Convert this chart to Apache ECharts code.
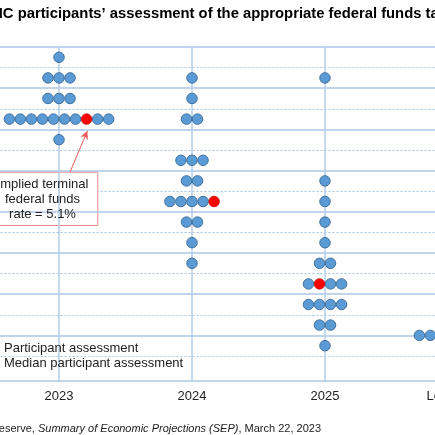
<!DOCTYPE html>
<html>
<head>
<meta charset="utf-8">
<script src="https://cdn.jsdelivr.net/npm/echarts@6/dist/echarts.min.js"></script>
<style>
    html, body { margin: 0; padding: 0; background: #fff; }
    #frame { position: relative; width: 435px; height: 435px; overflow: hidden; }
    #chart { position: absolute; left: -100px; top: 0; width: 660px; height: 435px; }
</style>
</head>
<body>
<div id="frame"><div id="chart"></div></div>
<script>
/* FOMC dot plot, March 2023 SEP */
var columns = ['2023', '2024', '2025', 'Longer run'];

// rate level of each row of dots, and how many dots sit on it (median included)
var rates2023 = [5.875, 5.625, 5.375, 5.125, 4.875];
var counts2023 = [1, 3, 3, 10, 1];
var rates2024 = [5.625, 5.375, 5.125, 4.625, 4.375, 4.125, 3.875, 3.625, 3.375];
var counts2024 = [1, 1, 2, 3, 2, 5, 2, 1, 1];
var rates2025 = [5.625, 4.375, 4.125, 3.875, 3.625, 3.375, 3.125, 2.875, 2.625, 2.375];
var counts2025 = [1, 1, 1, 1, 1, 2, 4, 4, 2, 1];
var ratesLonger = [3.75, 3.5, 3.0, 2.75, 2.5, 2.25];
var countsLonger = [1, 1, 3, 3, 8, 2];

// median per column and which slot in its row it takes
var medianRates = [5.125, 4.125, 3.125, 2.5];
var medianSlots = [7, 4, 1, 5];

// horizontal guide levels
var solidLevels = [2.5, 3, 3.5, 4, 4.5, 5, 5.5, 6];
var dottedLevels = [2.25, 2.75, 3.25, 3.75, 4.25, 4.75, 5.25, 5.75];

var FONT = 'Liberation Sans, Arial, sans-serif';
var dotStep = 0.083;   // horizontal spacing of dots, in column units

var rowSets = [
    [rates2023, counts2023],
    [rates2024, counts2024],
    [rates2025, counts2025],
    [ratesLonger, countsLonger]
];

// spread the dots of every row around the column centre
var buildDots = function () {
    var blue = [], red = [];
    rowSets.forEach(function (set, col) {
        var rates = set[0], counts = set[1];
        rates.forEach(function (rate, r) {
            var n = counts[r];
            for (var i = 0; i < n; i++) {
                var x = col + (i - (n - 1) / 2) * dotStep;
                if (rate === medianRates[col] && i === medianSlots[col]) {
                    red.push([x, rate]);
                } else {
                    blue.push([x, rate]);
                }
            }
        });
    });
    return {blue: blue, red: red};
};

var dots = buildDots();

// dotted lines sit under the note box, solid ones above it
var dottedLines = dottedLevels.map(function (v) {
    return {yAxis: v, lineStyle: {color: '#9fc2e8', width: 1, type: [2, 2]}};
});
var solidLines = solidLevels.map(function (v) {
    return {yAxis: v, lineStyle: {color: '#abc7e7', width: 1.5, type: 'solid'}};
});
columns.forEach(function (c, i) {
    solidLines.push({xAxis: i, lineStyle: {color: '#b3cdea', width: 1.5, type: 'solid'}});
});

var guideSeries = function (name, lines, z) {
    return {
        name: name,
        type: 'scatter',
        data: [],
        z: z,
        markLine: {
            silent: true,
            symbol: 'none',
            label: {show: false},
            z: z,
            data: lines
        }
    };
};

var myChart = echarts.init(document.getElementById('chart'));
myChart.setOption({
    animation: false,
    title: [{
        text: 'FOMC participants\u2019 assessment of the appropriate federal funds target rate',
        left: 65,
        top: 1,
        textStyle: {fontSize: 14.8, fontWeight: 'bold', color: '#000', fontFamily: FONT}
    }, {
        text: '{n|Source: Federal Reserve, }{i|Summary of Economic Projections (SEP)}{n|, March 22, 2023}',
        right: 234,
        top: 418,
        textStyle: {
            fontWeight: 'normal',
            rich: {
                n: {fontSize: 11, color: '#222', fontFamily: FONT, fontWeight: 'normal'},
                i: {fontSize: 11, color: '#222', fontFamily: FONT, fontWeight: 'normal', fontStyle: 'italic'}
            }
        }
    }],
    legend: {
        orient: 'vertical',
        left: 88,
        top: 340.5,
        padding: 0,
        itemGap: 0,
        itemWidth: 10,
        itemHeight: 10,
        icon: 'circle',
        textStyle: {fontSize: 13, color: '#222', fontFamily: FONT, lineHeight: 15},
        data: ['Participant assessment', 'Median participant assessment']
    },
    grid: {left: 92.5, right: 35.5, top: 47, bottom: 54.3},
    xAxis: {
        type: 'value',
        min: -0.5,
        max: 3.5,
        interval: 0.5,
        splitLine: {show: false},
        axisTick: {show: false},
        axisLine: {lineStyle: {color: '#abc7e7', width: 1.5}},
        axisLabel: {
            margin: 9,
            fontSize: 13,
            color: '#222',
            fontFamily: FONT,
            formatter: function (v) {
                return v % 1 === 0 ? columns[v] : '';
            }
        }
    },
    yAxis: {
        type: 'value',
        min: 1.95,
        max: 6,
        show: false
    },
    graphic: [{
        type: 'group',
        left: 86.7,
        top: 171.7,
        z: 2,
        children: [{
            type: 'rect',
            z: 2,
            shape: {x: 0, y: 0, width: 110.6, height: 53.3},
            style: {fill: '#fff', stroke: '#ec8a8a', lineWidth: 1}
        }, {
            type: 'text',
            z: 8,
            x: 55.3,
            y: 27,
            style: {
                text: 'Implied terminal\nfederal funds\nrate = 5.1%',
                align: 'center',
                verticalAlign: 'middle',
                fontSize: 13,
                lineHeight: 15,
                fontFamily: FONT,
                fill: '#222'
            }
        }]
    }],
    series: [
        guideSeries('dotted guides', dottedLines, 1),
        guideSeries('solid guides', solidLines, 3),
        {
            name: 'Participant assessment',
            type: 'scatter',
            symbolSize: 10.5,
            z: 10,
            itemStyle: {color: '#5b9bd5', borderColor: '#41719c', borderWidth: 1, opacity: 1},
            data: dots.blue
        }, {
            name: 'Median participant assessment',
            type: 'scatter',
            symbolSize: 10.5,
            z: 11,
            itemStyle: {color: '#ff0000', borderColor: '#c00000', borderWidth: 0.8, opacity: 1},
            data: dots.red,
            markLine: {
                silent: true,
                symbol: ['none', 'arrow'],
                symbolSize: [6, 8],
                label: {show: false},
                lineStyle: {color: '#ee5a5a', width: 1, type: 'solid'},
                data: [[{coord: [0.083, 4.483]}, {coord: [0.213, 4.98]}]]
            }
        }
    ]
});
</script>
</body>
</html>
